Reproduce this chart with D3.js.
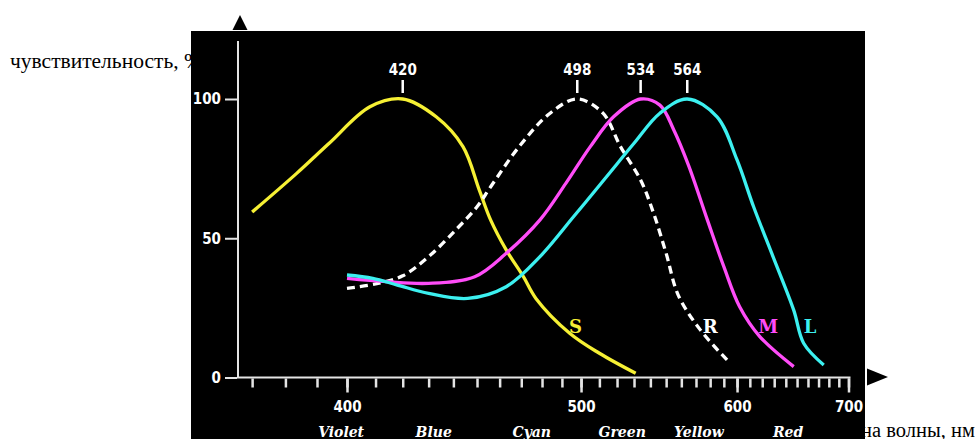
<!DOCTYPE html>
<html><head><meta charset="utf-8">
<script src="https://cdn.jsdelivr.net/npm/d3@7"></script>
<style>html,body{margin:0;padding:0;background:#fff;overflow:hidden}</style>
</head><body>
<svg id="c" width="976" height="439"></svg>
<script>
// ---- data ----
const sCurve = [[370,59.4],[383.5,73.3],[394,84.1],[408,97.2],[420,100],[433,93.6],[444,82.9],[451,67.3],[456,56.5],[463,45.8],[471,36.2],[477,28.4],[494,15.9],[510,8.7],[531,1.5]];
const rCurve = [[400,32],[410,33.6],[420,36.5],[430,43.4],[441,53],[450,61.3],[456,68.5],[469,82.9],[484,94.9],[498,100],[512,94.9],[522,82.9],[534,70.9],[542,59],[550,44.6],[558,29.5],[573,17.1],[595,5]];
const mCurve = [[400,35.6],[414,34.4],[430,33.8],[449,36.2],[463,44.6],[479,56.6],[492,69.7],[505,82.9],[518,93.6],[534,100],[546,97.8],[555,88.9],[565,76],[578,56.6],[590,39.8],[602,25.4],[618,14.7],[647,3.9]];
const lCurve = [[400,36.8],[409,35.6],[418,33.2],[430,30.2],[446,28.4],[463,32.6],[479,43.4],[496,57.7],[514,72.1],[530,84.1],[546,94.9],[564,100],[585,93.6],[600,78.1],[613,61.3],[629,43.4],[647,24.2],[656,12.3],[675,4.5]];
const peaks = [420, 498, 534, 564];
const curveNames = ["S", "R", "M", "L"];
const curveLabelAt = [497, 580, 625, 662];   // wavelength where the letter sits
const minorTicks = d3.range(370, 701, 10);
const majorTicks = [400, 500, 600, 700];
const yTicks = [0, 50, 100];
const colorNames = ["Violet", "Blue", "Cyan", "Green", "Yellow", "Red"];
const colorNameAt = [398, 432, 475, 523, 572, 642];
const yTitle = "чувствительность, %";
const xTitle = "длина волны, нм";

// ---- styles ----
const colors = ["#f6f034", "#ffffff", "#ff4cf8", "#3cf0f0"];
const axisColor = "#e4e4e4";
const numFont = "'DejaVu Sans Condensed','DejaVu Sans',sans-serif";

const svg = d3.select("#c");
const x = d3.scalePow().exponent(-1).domain([400, 700]).range([347, 848.5]);
const y = d3.scaleLinear().domain([0, 100]).range([377.5, 99]);

// titles (drawn under the black panel)
svg.append("text").attr("x", 10).attr("y", 68)
  .style("font-family", "'Liberation Serif','Times New Roman',serif").style("font-size", "21.5px")
  .attr("fill", "#000").text(yTitle);
svg.append("text").attr("x", 975).attr("y", 437).attr("text-anchor", "end")
  .style("font-family", "'Liberation Serif','Times New Roman',serif").style("font-size", "20.5px")
  .attr("fill", "#000").text(xTitle);

// black panel
svg.append("rect").attr("x", 191).attr("y", 31).attr("width", 674).attr("height", 410).attr("fill", "#000");

// arrows
svg.append("path").attr("d", "M240,15 L232.5,30 L247.5,30 Z").attr("fill", "#000");
svg.append("path").attr("d", "M888,377 L867,368.5 L867,385.5 Z").attr("fill", "#000");

// y axis line
svg.append("line").attr("x1", 238).attr("x2", 238).attr("y1", 41).attr("y2", y(0))
  .attr("stroke", axisColor).attr("stroke-width", 2);
// x axis line
svg.append("line").attr("x1", 237).attr("x2", x(700) + 2).attr("y1", y(0)).attr("y2", y(0))
  .attr("stroke", axisColor).attr("stroke-width", 2);

// y axis ticks via d3 axis
const yAxis = svg.append("g").attr("transform", "translate(237,0)")
  .call(d3.axisLeft(y).tickValues(yTicks).tickSize(12).tickPadding(4).tickFormat(d3.format("d")));
yAxis.select(".domain").remove();
yAxis.selectAll("line").attr("stroke", axisColor).attr("stroke-width", 2);
yAxis.selectAll("text").attr("fill", "#fff").style("font-family", numFont).style("font-size", "15px").style("font-weight", "bold");

// x axis minor ticks
const xMinor = svg.append("g").attr("transform", `translate(0,${y(0) + 1})`)
  .call(d3.axisBottom(x).tickValues(minorTicks).tickSize(9).tickFormat(""));
xMinor.select(".domain").remove();
xMinor.selectAll("line").attr("stroke", axisColor).attr("stroke-width", 2.5);
// x axis major ticks
const xMajor = svg.append("g").attr("transform", `translate(0,${y(0) + 1})`)
  .call(d3.axisBottom(x).tickValues(majorTicks).tickSize(14).tickPadding(9).tickFormat(d3.format("d")));
xMajor.select(".domain").remove();
xMajor.selectAll("line").attr("stroke", axisColor).attr("stroke-width", 2.5);
xMajor.selectAll("text").attr("fill", "#fff").style("font-family", numFont).style("font-size", "15px").style("font-weight", "bold");

// colour names
svg.append("g").selectAll("text").data(colorNames).join("text")
  .attr("x", (d, i) => x(colorNameAt[i])).attr("y", 437).attr("text-anchor", "middle")
  .attr("fill", "#fff").style("font-family", "'DejaVu Serif',serif").style("font-size", "14px")
  .style("font-weight", "bold").style("font-style", "italic").text(d => d);

// peak markers
const pk = svg.append("g");
pk.selectAll("line").data(peaks).join("line")
  .attr("x1", d => x(d)).attr("x2", d => x(d)).attr("y1", 80).attr("y2", 93)
  .attr("stroke", "#fff").attr("stroke-width", 2.5);
pk.selectAll("text").data(peaks).join("text")
  .attr("x", d => x(d)).attr("y", 75).attr("text-anchor", "middle")
  .attr("fill", "#fff").style("font-family", numFont).style("font-size", "15px").style("font-weight", "bold")
  .text(d => d);

// curves
const line = d3.line().x(d => x(d[0])).y(d => y(d[1])).curve(d3.curveCatmullRom.alpha(0.5));
const curves = [sCurve, rCurve, mCurve, lCurve];
svg.append("g").selectAll("path").data(curves).join("path")
  .attr("d", d => line(d)).attr("fill", "none")
  .attr("stroke", (d, i) => colors[i]).attr("stroke-width", 3.3)
  .attr("stroke-dasharray", (d, i) => i === 1 ? "8,5" : null);

// curve letters
svg.append("g").selectAll("text").data(curveNames).join("text")
  .attr("x", (d, i) => x(curveLabelAt[i])).attr("y", 333).attr("text-anchor", "middle")
  .attr("fill", (d, i) => colors[i]).style("font-family", "'DejaVu Serif',serif").style("font-size", "18px")
  .style("font-weight", "bold").text(d => d);
</script>
</body></html>
